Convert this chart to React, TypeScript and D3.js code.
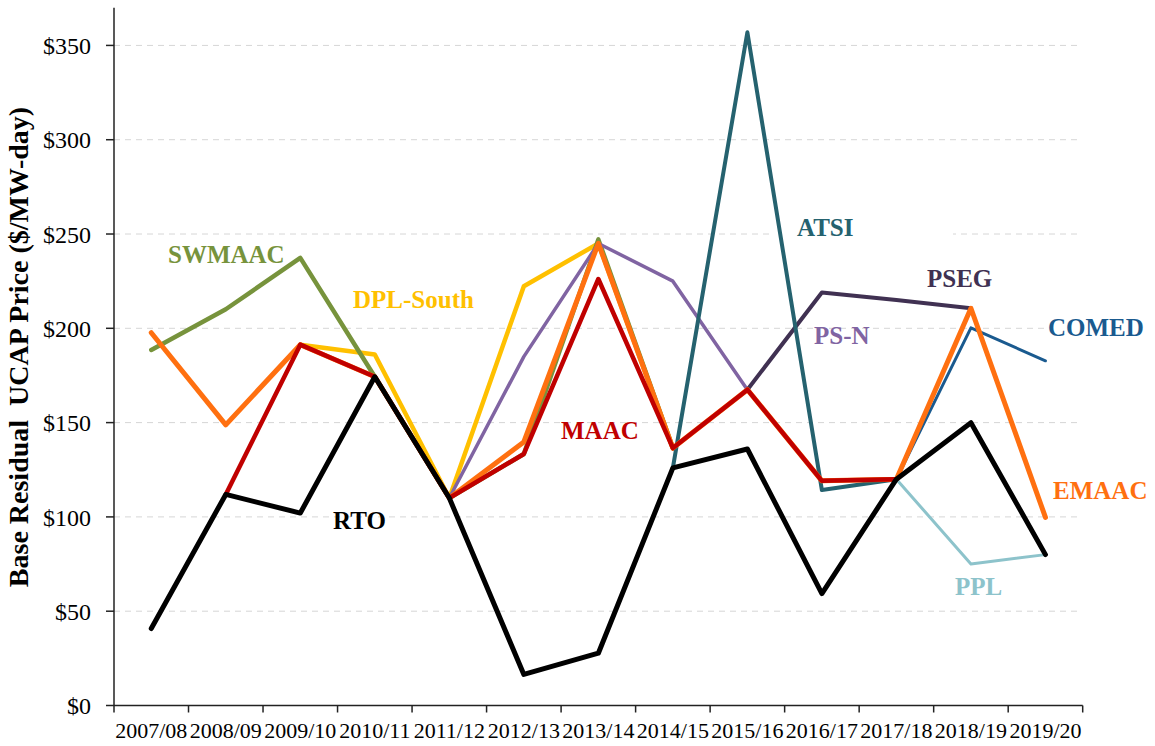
import * as d3 from "d3";

const years = [
  "2007/08", "2008/09", "2009/10", "2010/11", "2011/12", "2012/13", "2013/14",
  "2014/15", "2015/16", "2016/17", "2017/18", "2018/19", "2019/20",
];
const yTicks = [0, 50, 100, 150, 200, 250, 300, 350];

type V = number | null;
const rto: V[] = [40.8, 111.92, 102.04, 174.29, 110, 16.46, 27.73, 125.99, 136, 59.37, 120, 149.98, 80];
const maac: V[] = [null, 111.92, 191.32, 174.29, 110, 133.37, 226.15, 136.5, 167.46, 119.13, 120, null, null];
const emaac: V[] = [197.67, 148.8, 191.32, 174.29, 110, 139.73, 245, 136.5, 167.46, 119.13, 120, 210.63, 99.77];
const swmaac: V[] = [188.54, 210.11, 237.33, 174.29, 110, 133.37, 247.14, 136.5, null, null, null, null, null];
const dplSouth: V[] = [null, null, 191.32, 186.12, 110, 222.3, 245, 136.5, null, null, null, null, null];
const psN: V[] = [null, null, null, null, 110, 185, 245, 225, 167.46, null, null, null, null];
const pseg: V[] = [null, null, null, null, null, null, null, null, 167.46, 219, 215, 210.63, null];
const atsi: V[] = [null, null, null, null, null, null, null, 125.99, 357, 114.23, 120, null, null];
const comed: V[] = [null, null, null, null, null, null, null, null, null, null, 120, 200.21, 182.77];
const ppl: V[] = [null, null, null, null, null, null, null, null, null, null, 120, 75, 80];

// drawing order: first = bottom
const series = [
  { name: "DPL-South", values: dplSouth, color: "#FFC000", width: 4.5, lx: 353, ly: 308 },
  { name: "SWMAAC", values: swmaac, color: "#77933C", width: 4.5, lx: 168, ly: 263 },
  { name: "PS-N", values: psN, color: "#8064A2", width: 3.5, lx: 814, ly: 344 },
  { name: "PSEG", values: pseg, color: "#403152", width: 4, lx: 927, ly: 287 },
  { name: "ATSI", values: atsi, color: "#25626F", width: 4, lx: 797, ly: 236 },
  { name: "PPL", values: ppl, color: "#8DC3CB", width: 3, lx: 955, ly: 595 },
  { name: "COMED", values: comed, color: "#1A5A8F", width: 3, lx: 1048, ly: 336 },
  { name: "EMAAC", values: emaac, color: "#FF7010", width: 5, lx: 1053, ly: 499 },
  { name: "MAAC", values: maac, color: "#C00000", width: 4.5, lx: 561, ly: 439 },
  { name: "RTO", values: rto, color: "#000000", width: 5, lx: 333, ly: 529 },
];

const W = 1155;
const H = 746;
const left = 114;
const right = 1082.7;
const bottom = 705.5;
const top = 7.7;
const serif = "'Liberation Serif', 'Times New Roman', serif";

export default function App() {
  const x = d3.scaleBand().domain(years).range([left, right]);
  const cx = (d: string) => (x(d) ?? 0) + x.bandwidth() / 2;
  const y = d3.scaleLinear().domain([0, 370]).range([bottom, top]);

  const line = d3
    .line<V>()
    .defined((d) => d !== null)
    .x((_, i) => cx(years[i]))
    .y((d) => y(d as number));

  return (
    <div style={{ position: "absolute", left: 0, top: 0 }}>
      <svg width={W} height={H} style={{ display: "block", background: "#fff" }}>
        {/* gridlines */}
        {yTicks
          .filter((t) => t > 0)
          .map((t) => (
            <line
              key={t}
              x1={left}
              x2={1079}
              y1={y(t)}
              y2={y(t)}
              stroke="#D6D6D6"
              strokeWidth={1}
              strokeDasharray="6,5"
            />
          ))}
        {/* label boxes that cover gridlines */}
        <rect x={772} y={218} width={181} height={24} fill="#fff" />
        <rect x={1045} y={318} width={110} height={22} fill="#fff" />

        {/* series */}
        {series.map((s) => (
          <path
            key={s.name}
            d={line(s.values) ?? ""}
            fill="none"
            stroke={s.color}
            strokeWidth={s.width}
            strokeLinejoin="round"
            strokeLinecap="round"
          />
        ))}

        {/* axes */}
        <line x1={left} x2={left} y1={top} y2={bottom} stroke="#222" strokeWidth={1.5} />
        <line x1={left} x2={right} y1={bottom} y2={bottom} stroke="#222" strokeWidth={1.5} />
        {yTicks.map((t) => (
          <g key={t}>
            <line x1={left - 8} x2={left} y1={y(t)} y2={y(t)} stroke="#222" strokeWidth={1.5} />
            <text
              x={91}
              y={y(t)}
              dy="0.36em"
              textAnchor="end"
              fontFamily={serif}
              fontSize={24}
              fill="#000"
            >
              {"$" + t}
            </text>
          </g>
        ))}
        {[...years.map((d) => x(d) ?? 0), right].map((px, i) => (
          <line key={i} x1={px} x2={px} y1={bottom} y2={bottom + 7} stroke="#222" strokeWidth={1.5} />
        ))}
        {years.map((d) => (
          <text
            key={d}
            x={cx(d)}
            y={738}
            textAnchor="middle"
            fontFamily={serif}
            fontSize={22}
            fill="#000"
          >
            {d}
          </text>
        ))}

        {/* y axis title */}
        <text
          transform="translate(28,347) rotate(-90)"
          textAnchor="middle"
          fontFamily={serif}
          fontSize={28}
          fontWeight="bold"
          fill="#000"
          style={{ whiteSpace: "pre" }}
        >
          {"Base Residual  UCAP Price ($/MW-day)"}
        </text>

        {/* series labels */}
        {series.map((s) => (
          <text
            key={s.name}
            x={s.lx}
            y={s.ly}
            fontFamily={serif}
            fontSize={25}
            fontWeight="bold"
            fill={s.color}
          >
            {s.name}
          </text>
        ))}
      </svg>
    </div>
  );
}
